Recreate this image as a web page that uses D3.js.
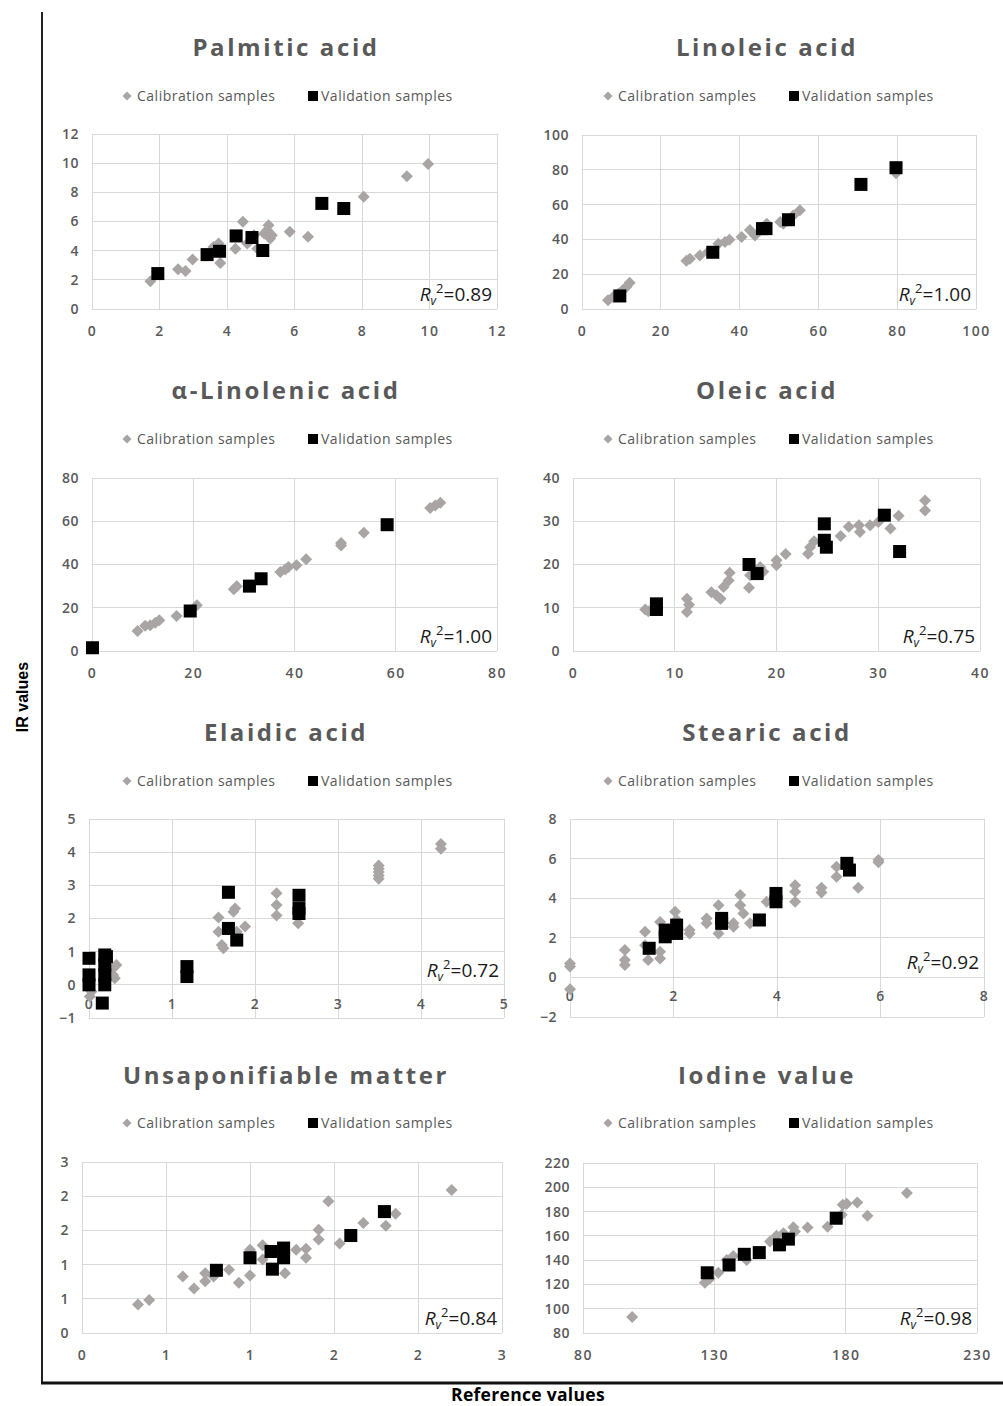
<!DOCTYPE html>
<html>
<head>
<meta charset="utf-8">
<script src="https://cdn.jsdelivr.net/npm/d3@7"></script>
<style>
body { margin: 0; background: #fff; }
text { font-family: "Open Sans", sans-serif; }
</style>
</head>
<body>
<script>
// calibration / validation samples: [reference, IR]
var palmiticCal = [[1.73,1.9],[2.55,2.72],[2.77,2.61],[2.98,3.39],[3.6,4.26],[3.75,4.49],[3.8,3.16],[4.25,4.14],[4.47,5.98],[4.6,4.49],[4.8,5.06],[4.9,4.14],[5.1,5.17],[5.19,5.4],[5.23,5.75],[5.28,4.83],[5.33,5.06],[5.86,5.29],[6.4,4.95],[8.05,7.69],[9.33,9.11],[9.96,9.94]];
var palmiticVal = [[1.95,2.43],[3.41,3.73],[3.78,3.96],[4.27,5.01],[4.74,4.9],[5.06,4.01],[6.81,7.24],[7.46,6.89]];

var linoleicCal = [[6.6,5],[7.9,6.9],[8.7,7.9],[9.2,8.8],[10.4,10.9],[11.3,12.8],[12.1,15.1],[26.5,27.8],[27.4,28.9],[29.9,30.8],[32,32.8],[34.6,37.5],[36.3,38.5],[37.4,39.8],[40.5,41.4],[42.6,45.4],[43.9,42.3],[46,47],[46.9,49],[50.3,50],[51.1,49],[53.6,53.8],[55.3,56.7],[79.7,78]];
var linoleicVal = [[9.6,7.5],[33.2,32.6],[45.8,46.2],[46.7,46.2],[52.4,51.3],[70.8,71.6],[79.7,81.2]];

var linolenicCal = [[9,9.2],[10.5,11.7],[11.5,11.9],[12.5,13.1],[13.3,14.2],[16.7,16.2],[20.7,21.1],[28,28.5],[28.6,30],[37.2,36.5],[38.2,37.8],[38.8,38.8],[40.4,39.6],[42.3,42.4],[49.2,48.8],[49.2,50],[53.7,54.7],[66.8,66.1],[67.8,67.3],[68.8,68.6]];
var linolenicVal = [[0.1,1.5],[19.4,18.5],[31.1,30],[33.4,33.4],[58.3,58.4]];

var oleicCal = [[7.1,9.6],[7.4,9.2],[11.2,12.1],[11.4,10.7],[11.2,9],[13.6,13.6],[14.1,12.9],[14.5,12.1],[14.8,14.8],[15.3,16.3],[15.4,18.1],[17.3,14.6],[17.4,17.5],[18.4,19.4],[18.7,18.3],[20,19.8],[20,21],[20.9,22.4],[23.1,22.5],[23.3,24],[23.7,25.4],[26.3,26.6],[27.1,28.7],[28.1,29.1],[28.2,27.5],[29.2,29.1],[30,29.8],[31.2,28.3],[32,31.3],[34.6,32.5],[34.6,34.8]];
var oleicVal = [[8.2,9.6],[8.2,10.9],[17.3,20],[18.1,17.9],[24.7,29.4],[24.7,25.6],[24.9,24],[30.6,31.4],[32.1,23]];

var elaidicCal = [[0.01,-0.35],[0.03,-0.2],[0.29,0.5],[0.31,0.2],[0.29,0.3],[0.33,0.6],[1.56,2.03],[1.56,1.6],[1.6,1.2],[1.62,1.1],[1.74,2.2],[1.76,2.3],[1.78,1.6],[1.88,1.76],[2.26,2.76],[2.26,2.41],[2.26,2.09],[2.52,1.86],[3.49,3.6],[3.49,3.5],[3.49,3.4],[3.49,3.3],[3.49,3.2],[4.24,4.25],[4.24,4.1]];
var elaidicVal = [[0,0.8],[0,0.3],[0,0],[0.19,0.9],[0.19,0.6],[0.19,0.3],[0.19,0],[0.21,0.85],[0.16,-0.55],[1.18,0.25],[1.18,0.55],[1.68,2.79],[1.68,1.7],[1.78,1.35],[2.53,2.7],[2.53,2.3],[2.53,2.15]];

var stearicCal = [[0,0.7],[0,0.55],[0,-0.6],[1.06,1.38],[1.06,0.88],[1.06,0.62],[1.45,2.3],[1.45,1.63],[1.51,0.88],[1.74,2.8],[1.74,0.96],[1.74,1.3],[2.03,3.32],[2.06,2.9],[2.31,2.39],[2.31,2.22],[2.64,2.98],[2.64,2.73],[2.87,3.65],[2.87,2.22],[3.16,2.73],[3.16,2.56],[3.29,4.16],[3.29,3.65],[3.35,3.23],[3.48,2.73],[3.8,3.82],[4.35,4.66],[4.35,4.33],[4.35,3.82],[4.86,4.53],[4.86,4.29],[5.15,5.59],[5.15,5.08],[5.57,4.53],[5.96,5.93],[5.96,5.81]];
var stearicVal = [[1.53,1.47],[1.84,2.05],[1.84,2.39],[2.06,2.64],[2.06,2.22],[2.93,2.73],[2.93,2.98],[3.66,2.9],[3.98,4.24],[3.98,3.82],[5.35,5.76],[5.4,5.42]];

var unsapCal = [[0.4,0.5],[0.48,0.58],[0.72,0.99],[0.8,0.78],[0.88,1.05],[0.88,0.91],[0.94,0.99],[1.05,1.11],[1.12,0.88],[1.2,1.46],[1.2,1.01],[1.29,1.54],[1.29,1.29],[1.45,1.05],[1.53,1.46],[1.6,1.48],[1.6,1.32],[1.69,1.81],[1.69,1.64],[1.76,2.31],[1.84,1.57],[2.01,1.93],[2.17,1.88],[2.24,2.09],[2.64,2.51]];
var unsapVal = [[0.96,1.1],[1.2,1.32],[1.35,1.43],[1.36,1.12],[1.44,1.49],[1.44,1.32],[1.92,1.71],[2.16,2.13]];

var iodineCal = [[98.7,93.2],[126.4,121.3],[128.3,124.9],[131.5,129.6],[134.7,140.1],[137.2,143.4],[142.3,140.1],[151.2,155.3],[153.7,160],[156.3,162.1],[160.1,167.1],[160.7,163.5],[165.5,166.8],[173.1,167.6],[178.5,177.3],[178.9,185.6],[180.4,186.4],[184.4,187.5],[188.3,176.5],[203.3,195.2]];
var iodineVal = [[127.3,129.6],[135.6,136],[141.4,144.8],[147.1,146.2],[154.8,152.6],[158.2,157.3],[176.4,174.5]];

// tick values
var palmiticTicks = [0,2,4,6,8,10,12];
var linoleicTicks = [0,20,40,60,80,100];
var linolenicTicks = [0,20,40,60,80];
var oleicTicks = [0,10,20,30,40];
var elaidicXTicks = [0,1,2,3,4,5];
var elaidicYTicks = [-1,0,1,2,3,4,5];
var stearicXTicks = [0,2,4,6,8];
var stearicYTicks = [-2,0,2,4,6,8];
var unsapTicks = [0,0.6,1.2,1.8,2.4,3];
var iodineXTicks = [80,130,180,230];
var iodineYTicks = [80,100,120,140,160,180,200,220];

var titles = ["Palmitic acid","Linoleic acid","α-Linolenic acid","Oleic acid","Elaidic acid","Stearic acid","Unsaponifiable matter","Iodine value"];
var r2Values = ["0.89","1.00","1.00","0.75","0.72","0.92","0.84","0.98"];

var width = 1003, height = 1406;

var svg = d3.select("body").append("svg")
    .attr("width", width)
    .attr("height", height);

// plot rectangles (left, right, top, bottom)
var boxes = [
  [92, 497, 134, 309], [582, 976, 135, 309],
  [92, 497, 478, 651], [573, 980, 478, 651],
  [89, 504, 819, 1018], [570, 984, 819, 1017],
  [82, 502, 1162, 1333], [583, 977, 1163, 1333]
];
var titleY = [47, 47, 390, 390, 732, 732, 1075, 1075];
var legendY = [96, 96, 439, 439, 781, 781, 1123, 1123];
var titleX = [286, 767];

var panels = [
  {cal: palmiticCal, val: palmiticVal, xt: palmiticTicks, yt: palmiticTicks},
  {cal: linoleicCal, val: linoleicVal, xt: linoleicTicks, yt: linoleicTicks},
  {cal: linolenicCal, val: linolenicVal, xt: linolenicTicks, yt: linolenicTicks},
  {cal: oleicCal, val: oleicVal, xt: oleicTicks, yt: oleicTicks},
  {cal: elaidicCal, val: elaidicVal, xt: elaidicXTicks, yt: elaidicYTicks, cross: 0},
  {cal: stearicCal, val: stearicVal, xt: stearicXTicks, yt: stearicYTicks, cross: 0},
  {cal: unsapCal, val: unsapVal, xt: unsapTicks, yt: unsapTicks},
  {cal: iodineCal, val: iodineVal, xt: iodineXTicks, yt: iodineYTicks}
];

var fmt = d3.format(".0f");
var grey = "#595959";

panels.forEach(function(p, i) {
  var b = boxes[i];
  var cx = titleX[i % 2];
  var x = d3.scaleLinear().domain(d3.extent(p.xt)).range([b[0], b[1]]);
  var y = d3.scaleLinear().domain(d3.extent(p.yt)).range([b[3], b[2]]);
  var g = svg.append("g");

  // gridlines
  g.selectAll(".vg").data(p.xt).enter().append("line")
    .attr("x1", function(d) { return x(d); }).attr("x2", function(d) { return x(d); })
    .attr("y1", b[2]).attr("y2", b[3])
    .attr("stroke", "#d9d9d9").attr("shape-rendering", "crispEdges");
  g.selectAll(".hg").data(p.yt).enter().append("line")
    .attr("x1", b[0]).attr("x2", b[1])
    .attr("y1", function(d) { return y(d); }).attr("y2", function(d) { return y(d); })
    .attr("stroke", "#d9d9d9").attr("shape-rendering", "crispEdges");

  // axes labels
  var yAx = g.append("g")
    .attr("transform", "translate(" + b[0] + ",0)")
    .call(d3.axisLeft(y).tickValues(p.yt).tickFormat(fmt).tickSize(0).tickPadding(13));
  var xPos = p.cross === undefined ? b[3] : y(p.cross);
  var xAx = g.append("g")
    .attr("transform", "translate(0," + xPos + ")")
    .call(d3.axisBottom(x).tickValues(p.xt).tickFormat(fmt).tickSize(0).tickPadding(p.cross === undefined ? 17 : 14));
  [xAx, yAx].forEach(function(a) {
    a.select(".domain").remove();
    a.selectAll("text").attr("fill", grey).style("font-size", "14px").style("font-weight", 600)
      .style("font-family", "'Open Sans', sans-serif");
  });
  xAx.selectAll("text").style("letter-spacing", "1.5px");
  yAx.selectAll("text").style("letter-spacing", "0.5px");

  // calibration diamonds
  g.selectAll(".cal").data(p.cal).enter().append("path")
    .attr("d", "M0,-6L6,0L0,6L-6,0Z")
    .attr("transform", function(d) { return "translate(" + x(d[0]) + "," + y(d[1]) + ")"; })
    .attr("fill", "#aaa5a5");

  // validation squares
  g.selectAll(".val").data(p.val).enter().append("rect")
    .attr("x", function(d) { return x(d[0]) - 6.5; })
    .attr("y", function(d) { return y(d[1]) - 6.5; })
    .attr("width", 13).attr("height", 13)
    .attr("fill", "#000");

  // title
  g.append("text")
    .attr("x", cx).attr("y", titleY[i] + 9)
    .attr("text-anchor", "middle")
    .attr("fill", grey)
    .style("font-size", "24px").style("font-weight", 700).style("letter-spacing", "2.6px")
    .text(titles[i]);

  // legend
  var lg = g.append("g").attr("transform", "translate(0," + legendY[i] + ")");
  lg.append("path").attr("d", "M0,-4.5L4.5,0L0,4.5L-4.5,0Z")
    .attr("transform", "translate(" + (cx - 159) + ",0)").attr("fill", "#aaa5a5");
  lg.append("text").attr("x", cx - 149).attr("y", 5)
    .attr("fill", grey).style("font-size", "14px").style("letter-spacing", "0.5px").text("Calibration samples");
  lg.append("rect").attr("x", cx + 22).attr("y", -5).attr("width", 10).attr("height", 10).attr("fill", "#000");
  lg.append("text").attr("x", cx + 35).attr("y", 5)
    .attr("fill", grey).style("font-size", "14px").style("letter-spacing", "0.5px").text("Validation samples");

  // R² note
  var rY = (p.cross === undefined ? b[3] : y(p.cross)) - 8;
  var r = g.append("text")
    .attr("x", b[1] - 5).attr("y", rY)
    .attr("text-anchor", "end")
    .attr("fill", "#1a1a1a")
    .style("font-size", "19px");
  r.append("tspan").style("font-style", "italic").text("R");
  r.append("tspan").style("font-style", "italic").style("font-size", "12px").attr("dy", 4).text("v");
  r.append("tspan").style("font-size", "13px").attr("dy", -12).text("2");
  r.append("tspan").attr("dy", 8).text("=" + r2Values[i]);
});

// outer frame
svg.append("line").attr("x1", 42).attr("x2", 42).attr("y1", 12).attr("y2", 1384)
  .attr("stroke", "#222").attr("stroke-width", 2);
svg.append("line").attr("x1", 41).attr("x2", 1003).attr("y1", 1383).attr("y2", 1383)
  .attr("stroke", "#111").attr("stroke-width", 3);

svg.append("text")
  .attr("transform", "translate(28,697) rotate(-90)")
  .attr("text-anchor", "middle")
  .style("font-family", "'Liberation Sans', Arial, sans-serif")
  .style("font-size", "16px").style("font-weight", 700)
  .text("IR values");

svg.append("text")
  .attr("x", 528).attr("y", 1401)
  .attr("text-anchor", "middle")
  .style("font-size", "17.5px").style("font-weight", 700)
  .style("letter-spacing", "0.3px")
  .text("Reference values");
</script>
</body>
</html>
